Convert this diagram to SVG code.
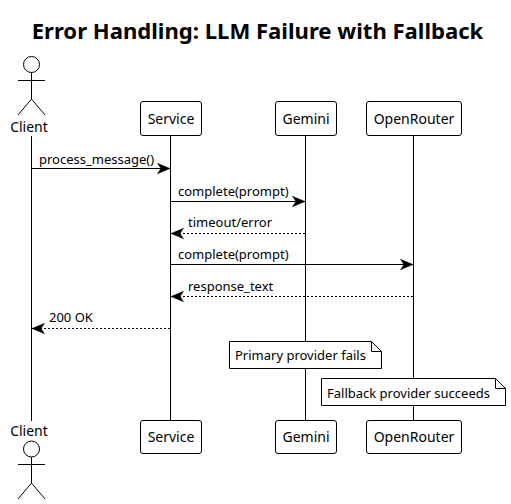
<svg xmlns="http://www.w3.org/2000/svg" width="511" height="504" viewBox="0 0 511 504">
<style>
text{font-family:"Noto Sans","DejaVu Sans",sans-serif;font-size:13px;fill:#000}
.title{font-size:22.1px;font-weight:700}
.n{font-size:14px}
.s{fill:none;stroke:#000;stroke-width:1}
.b{fill:#fff;stroke:#000;stroke-width:1}
.m{fill:none;stroke:#000;stroke-width:1}
.d{stroke-dasharray:2 2}
.c{text-anchor:middle}
</style>
<defs>
<marker id="ar" markerUnits="userSpaceOnUse" markerWidth="15" markerHeight="14" refX="13" refY="7" orient="auto"><path d="M0.500 1.800L13 7L0.500 12.200L4 7Z" fill="#000" stroke="#000" stroke-width="0.500"/></marker>
</defs>
<rect width="511" height="504" fill="#fff"/>
<text class="title c" x="257.5" y="39">Error Handling: LLM Failure with Fallback</text>
<g id="lifelines">
<path class="s" d="M31.5 136V421M170.5 135V421M305.5 135V421M413.5 135V421"/>
</g>
<g id="connectors">
<path class="m" marker-end="url(#ar)" d="M32 168.500H170"/>
<text x="39" y="164">process_message()</text>
<path class="m" marker-end="url(#ar)" d="M171 201.500H305"/>
<text x="178" y="196">complete(prompt)</text>
<path class="m d" marker-end="url(#ar)" d="M305 233.500H171"/>
<text x="188" y="227">timeout/error</text>
<path class="m" marker-end="url(#ar)" d="M171 264.500H413"/>
<text x="178" y="259">complete(prompt)</text>
<path class="m d" marker-end="url(#ar)" d="M413 296.500H171"/>
<text x="188" y="291">response_text</text>
<path class="m d" marker-end="url(#ar)" d="M170 328.500H32"/>
<text x="49" y="322">200 OK</text>
</g>
<g id="client-top">
<circle class="b" cx="31.500" cy="64.500" r="8"/>
<path class="s" d="M31.500 72.500V99M18 80.500H45M18 115L31.500 99L45 115"/>
<text class="c n" x="29" y="132">Client</text>
</g>
<g id="client-bottom">
<text class="c n" x="29" y="436">Client</text>
<circle class="b" cx="31.500" cy="449" r="8"/>
<path class="s" d="M31.500 457V483M18 464.500H45M18 499L31.500 483L45 499"/>
</g>
<g id="service-top"><rect class="b" x="140.500" y="101.500" width="61" height="34" rx="2.500"/><text class="c n" x="171" y="124">Service</text></g>
<g id="gemini-top"><rect class="b" x="275.500" y="101.500" width="61" height="34" rx="2.500"/><text class="c n" x="306" y="124">Gemini</text></g>
<g id="openrouter-top"><rect class="b" x="366.500" y="101.500" width="95" height="34" rx="2.500"/><text class="c n" x="414" y="124">OpenRouter</text></g>
<g id="service-bottom"><rect class="b" x="140.500" y="420.500" width="61" height="33" rx="2.500"/><text class="c n" x="171" y="442">Service</text></g>
<g id="gemini-bottom"><rect class="b" x="275.500" y="420.500" width="61" height="33" rx="2.500"/><text class="c n" x="306" y="442">Gemini</text></g>
<g id="openrouter-bottom"><rect class="b" x="366.500" y="420.500" width="95" height="33" rx="2.500"/><text class="c n" x="414" y="442">OpenRouter</text></g>
<g id="note-primary"><path class="b" d="M229.500 341.500H371.500L381.500 351.500V368.500H229.500ZM371.500 341.500V351.500H381.500"/><text x="235" y="360">Primary provider fails</text></g>
<g id="note-fallback"><path class="b" d="M321.500 378.500H495.500L505.500 388.500V405.500H321.500ZM495.500 378.500V388.500H505.500"/><text x="327" y="398">Fallback provider succeeds</text></g>
</svg>
